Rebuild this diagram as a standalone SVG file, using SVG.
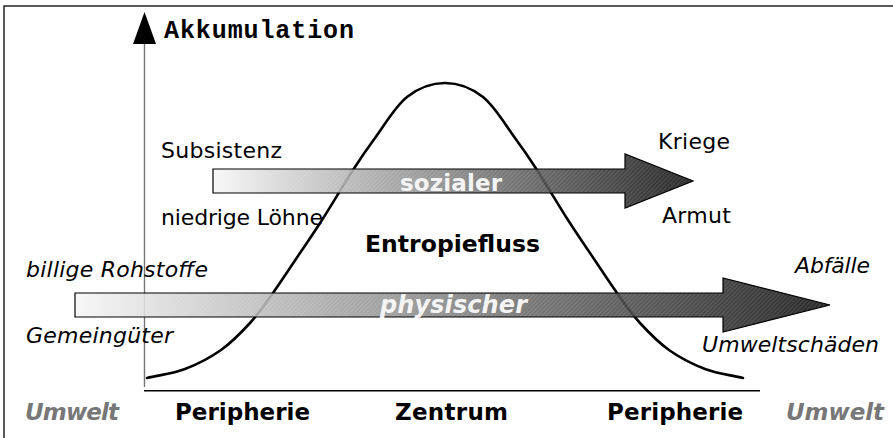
<svg xmlns="http://www.w3.org/2000/svg" width="893" height="438" viewBox="0 0 893 438">
<defs>
<style>
.t{font-family:"DejaVu Sans","Noto Sans",sans-serif;font-size:22px;fill:#000}
.i{font-style:italic}
.b{font-weight:bold}
.lbl{font-family:"DejaVu Sans","Noto Sans",sans-serif;font-size:23px;font-weight:bold;fill:#000}
.env{font-family:"DejaVu Sans","Noto Sans",sans-serif;font-size:23px;font-weight:bold;font-style:italic;fill:#777}
.flow{font-family:"DejaVu Sans","Noto Sans",sans-serif;font-size:23px;font-weight:bold;fill:#f4f4f4}
.arrow{stroke:#000;stroke-width:1.2;stroke-linejoin:miter}
</style>
<linearGradient id="gS" gradientUnits="userSpaceOnUse" x1="213" y1="0" x2="693" y2="0">
<stop offset="0" stop-color="#f6f6f6"/>
<stop offset="0.5" stop-color="#808080"/>
<stop offset="1" stop-color="#0d0d0d"/>
</linearGradient>
<linearGradient id="gP" gradientUnits="userSpaceOnUse" x1="75" y1="0" x2="830" y2="0">
<stop offset="0" stop-color="#f6f6f6"/>
<stop offset="0.5" stop-color="#7e7e7e"/>
<stop offset="1" stop-color="#0d0d0d"/>
</linearGradient>
<pattern id="hatch" patternUnits="userSpaceOnUse" width="3" height="3" patternTransform="rotate(45)">
<line x1="0" y1="0" x2="0" y2="3" stroke="#fff" stroke-width="1" stroke-opacity="0.22"/>
</pattern>
</defs>
<rect x="0" y="0" width="893" height="438" fill="#fff"/>
<rect id="frame" x="4" y="6" width="1000" height="1000" fill="none" stroke="#000" stroke-width="1.3"/>

<g id="axes">
<line x1="144.5" y1="387" x2="144.5" y2="44" stroke="#777" stroke-width="1.4"/>
<path d="M133,44 L144.5,12 L156,44 Z" fill="#000"/>
<line x1="144" y1="390.7" x2="760" y2="390.7" stroke="#000" stroke-width="1.5"/>
</g>

<g id="curve">
<path fill="none" stroke="#000" stroke-width="2.6" stroke-linecap="round" d="M147,378 C159.7,375 172.7,373.7 185,369 C197.3,364.3 210.2,357.7 221,350 C231.8,342.3 241.3,332.5 250,323 C258.7,313.5 264.7,304.7 273,293 C281.3,281.3 291.8,265.2 300,253 C308.2,240.8 313.2,233.8 322,220 C330.8,206.2 344.2,183.7 353,170 C361.8,156.3 366,150.2 375,138 C384,125.8 395.3,106.2 407,97 C418.7,87.8 432.3,83 445,83 C457.7,83 471.3,87.8 483,97 C494.7,106.2 506,125.8 515,138 C524,150.2 528.2,156.3 537,170 C545.8,183.7 559.2,206.2 568,220 C576.8,233.8 581.8,240.8 590,253 C598.2,265.2 608.7,281.3 617,293 C625.3,304.7 631.3,313.5 640,323 C648.7,332.5 658.2,342.3 669,350 C679.8,357.7 692.7,364.3 705,369 C717.3,373.7 730.3,375 743,378"/>
</g>

<g id="connectors">
<g id="social-arrow">
<path d="M213,169 H625 V154 L693,181 L625,208 V193 H213 Z" fill="url(#gS)" fill-opacity="0.88"/>
<path d="M213,169 H625 V154 L693,181 L625,208 V193 H213 Z" fill="url(#hatch)" class="arrow"/>
</g>
<g id="physical-arrow">
<path d="M75,293 H723 V278 L830,305 L723,332 V317 H75 Z" fill="url(#gP)" fill-opacity="0.88"/>
<path d="M75,293 H723 V278 L830,305 L723,332 V317 H75 Z" fill="url(#hatch)" class="arrow"/>
</g>
</g>

<g id="y-label"><text x="164" y="38" font-family="'Liberation Mono','DejaVu Sans Mono',monospace" font-size="25" font-weight="bold" textLength="190" lengthAdjust="spacing">Akkumulation</text></g>

<g id="social-labels">
<text class="t" x="161" y="158" textLength="121">Subsistenz</text>
<text class="t" x="161" y="225" textLength="162">niedrige Löhne</text>
<text class="t" x="658" y="149" textLength="72">Kriege</text>
<text class="t" x="662" y="223" textLength="69">Armut</text>
<text class="flow" x="400" y="190.5" textLength="102">sozialer</text>
</g>

<g id="center-label"><text class="t b" x="365" y="252" style="font-size:23.5px" textLength="175">Entropiefluss</text></g>

<g id="physical-labels">
<text class="t i" x="26" y="277" textLength="182">billige Rohstoffe</text>
<text class="t i" x="26" y="343" textLength="147">Gemeingüter</text>
<text class="t i" x="795" y="273" textLength="75">Abfälle</text>
<text class="t i" x="702" y="351.5" textLength="177">Umweltschäden</text>
<text class="flow" x="380" y="313" style="font-style:italic;font-size:24px" textLength="147">physischer</text>
</g>

<g id="x-labels">
<text class="env" x="25" y="420" textLength="94">Umwelt</text>
<text class="lbl" x="175" y="420" textLength="135">Peripherie</text>
<text class="lbl" x="395" y="420" textLength="113">Zentrum</text>
<text class="lbl" x="607" y="420" textLength="136">Peripherie</text>
<text class="env" x="786" y="420" textLength="98">Umwelt</text>
</g>
</svg>
